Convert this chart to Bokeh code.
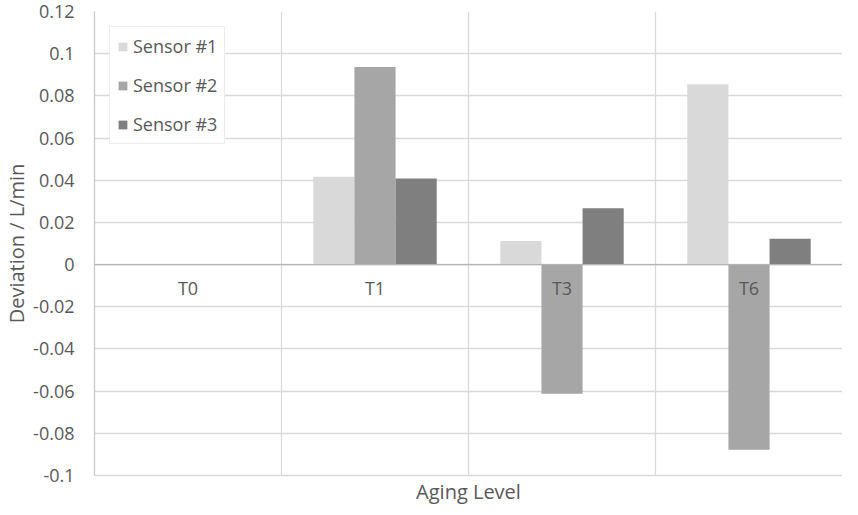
from bokeh.plotting import figure
from bokeh.models import Span, FixedTicker, CustomJSTickFormatter, ColumnDataSource
from bokeh.core.properties import value
from bokeh.embed import file_html
from bokeh.resources import INLINE

categories = ["T0", "T1", "T3", "T6"]
sensors = ["Sensor #1", "Sensor #2", "Sensor #3"]
sensor1 = [0.0, 0.0417, 0.0112, 0.0855]
sensor2 = [0.0, 0.0937, -0.0612, -0.0878]
sensor3 = [0.0, 0.0408, 0.0267, 0.0123]
y_ticks = [-0.1, -0.08, -0.06, -0.04, -0.02, 0.0, 0.02, 0.04, 0.06, 0.08, 0.1, 0.12]
colors = ["#d9d9d9", "#a6a6a6", "#7f7f7f"]

FONT = "Open Sans"
TXT = "#595959"
GRID = "#d9d9d9"

p = figure(width=842, height=507, x_range=(0, len(categories)), y_range=(-0.1, 0.12),
           output_backend="svg", toolbar_location=None,
           min_border_left=90, min_border_right=0, min_border_top=11, min_border_bottom=26)
p.background_fill_color = "white"
p.border_fill_color = "white"
p.outline_line_color = None

# grids
p.ygrid.ticker = FixedTicker(ticks=y_ticks)
p.ygrid.grid_line_color = GRID
p.ygrid.grid_line_width = 1.3
p.xgrid.ticker = FixedTicker(ticks=list(range(len(categories) + 1)))
p.xgrid.grid_line_color = GRID
p.xgrid.grid_line_width = 1.3

# y axis
p.yaxis.ticker = FixedTicker(ticks=y_ticks)
p.yaxis.formatter = CustomJSTickFormatter(code="return String(Math.round(tick*100)/100);")
p.yaxis.axis_label = "Deviation / L/min"
p.yaxis.axis_label_text_font = FONT
p.yaxis.axis_label_text_font_size = "20px"
p.yaxis.axis_label_text_font_style = "normal"
p.yaxis.axis_label_text_color = TXT
p.yaxis.axis_label_standoff = 0
p.yaxis.major_label_text_font = FONT
p.yaxis.major_label_text_font_size = "18px"
p.yaxis.major_label_text_color = TXT
p.yaxis.major_label_standoff = 20
p.yaxis.major_tick_line_color = None
p.yaxis.major_tick_out = 0
p.yaxis.major_tick_in = 0
p.yaxis.minor_tick_line_color = None
p.yaxis.minor_tick_out = 0
p.yaxis.minor_tick_in = 0
p.yaxis.axis_line_color = "#c8c8c8"
p.yaxis.axis_line_width = 1.3

# x axis (only title)
p.xaxis.ticker = FixedTicker(ticks=[])
p.xaxis.major_label_text_font_size = "0px"
p.xaxis.major_label_standoff = 0
p.xaxis.major_tick_line_color = None
p.xaxis.major_tick_out = 0
p.xaxis.major_tick_in = 0
p.xaxis.minor_tick_line_color = None
p.xaxis.minor_tick_out = 0
p.xaxis.minor_tick_in = 0
p.xaxis.axis_line_color = GRID
p.xaxis.axis_line_width = 1.3
p.xaxis.axis_label = "Aging Level"
p.xaxis.axis_label_text_font = FONT
p.xaxis.axis_label_text_font_size = "20px"
p.xaxis.axis_label_text_font_style = "normal"
p.xaxis.axis_label_text_color = TXT
p.xaxis.axis_label_standoff = 2

# bars
width = 0.22
offsets = [-width, 0.0, width]
series = [sensor1, sensor2, sensor3]
for name, vals, off, col in zip(sensors, series, offsets, colors):
    src = ColumnDataSource(dict(x=[i + 0.5 + off for i in range(len(categories))], top=vals))
    p.vbar(x="x", top="top", bottom=0, width=width, source=src,
           fill_color=col, line_color=None, legend_label=name)

# zero line
p.add_layout(Span(location=0, dimension="width", line_color="#b4b4b4", line_width=1.3))

# category labels at zero line
lab = ColumnDataSource(dict(x=[i + 0.5 for i in range(len(categories))], y=[0] * len(categories), t=categories))
p.text(x="x", y="y", text="t", source=lab, y_offset=23, text_align="center", text_baseline="middle",
       text_font=value(FONT), text_font_size="18px", text_color=TXT)

# legend
lg = p.legend[0]
lg.location = "top_left"
lg.margin = 15
lg.border_line_color = GRID
lg.border_line_width = 1.3
lg.background_fill_color = "white"
lg.background_fill_alpha = 1
lg.label_text_font = FONT
lg.label_text_font_size = "18px"
lg.label_text_color = TXT
lg.glyph_width = 11
lg.glyph_height = 11
lg.label_standoff = 5
lg.label_height = 20
lg.padding = 7
lg.spacing = 15

open("out.html", "w").write(file_html(p, INLINE))
